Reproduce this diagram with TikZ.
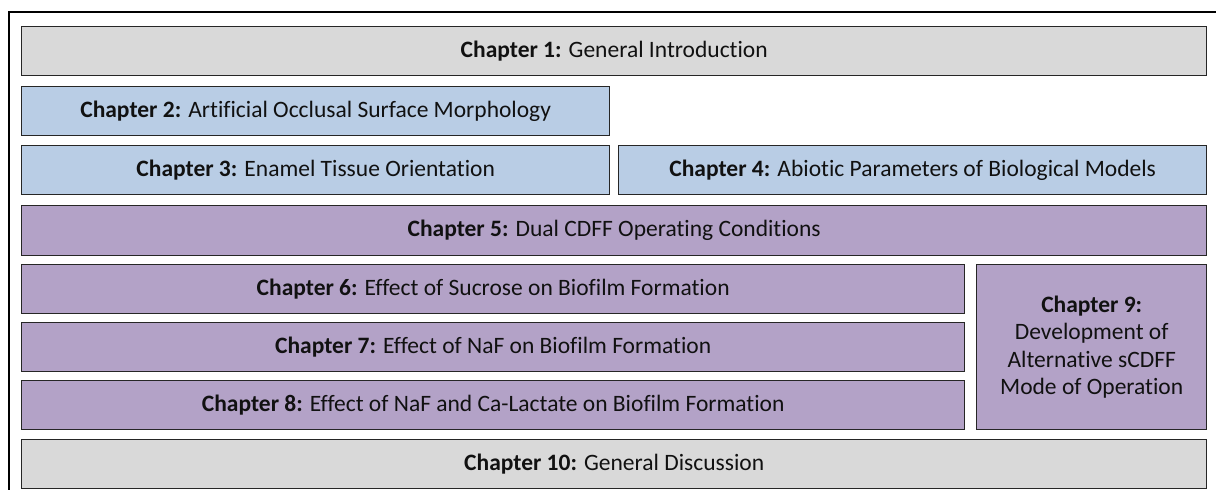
\documentclass[tikz,border=0pt]{standalone}
\usepackage{fontspec}
\setmainfont[Ligatures={NoCommon}]{Carlito}
\definecolor{greyfill}{HTML}{D9D9D9}
\definecolor{bluefill}{HTML}{B9CDE5}
\definecolor{purplefill}{HTML}{B3A2C7}
\definecolor{edgecol}{HTML}{262626}
\definecolor{txtcol}{HTML}{111111}
\tikzset{
  chbox/.style={draw=edgecol, line width=1.4pt, anchor=north west, inner sep=0pt,
    text=txtcol, align=center, font=\fontsize{23.5}{27.5}\selectfont},
  greybox/.style={chbox, fill=greyfill},
  bluebox/.style={chbox, fill=bluefill},
  purplebox/.style={chbox, fill=purplefill},
}
\begin{document}
\begin{tikzpicture}[x=1pt, y=-1pt]
\useasboundingbox (0,0) rectangle (1216,490);
\fill[white] (0,0) rectangle (1216,490);
\draw[line width=1.5pt, black] (9,500) -- (9,12) -- (1230,12);
\node[greybox, minimum width=1185pt, minimum height=49pt] (c1) at (21,26) {\textbf{Chapter 1:} General Introduction};
\node[bluebox, minimum width=588pt, minimum height=49pt] (c2) at (21,86) {\textbf{Chapter 2:} Artificial Occlusal Surface Morphology};
\node[bluebox, minimum width=588pt, minimum height=49pt] (c3) at (21,145) {\textbf{Chapter 3:} Enamel Tissue Orientation};
\node[bluebox, minimum width=588pt, minimum height=49pt] (c4) at (618,145) {\textbf{Chapter 4:} Abiotic Parameters of Biological Models};
\node[purplebox, minimum width=1185pt, minimum height=50pt] (c5) at (21,205) {\textbf{Chapter 5:} Dual CDFF Operating Conditions};
\node[purplebox, minimum width=943pt, minimum height=49pt] (c6) at (21,264) {\textbf{Chapter 6:} Effect of Sucrose on Biofilm Formation};
\node[purplebox, minimum width=943pt, minimum height=49pt] (c7) at (21,322) {\textbf{Chapter 7:} Effect of NaF on Biofilm Formation};
\node[purplebox, minimum width=943pt, minimum height=49pt] (c8) at (21,380) {\textbf{Chapter 8:} Effect of NaF and Ca-Lactate on Biofilm Formation};
\node[purplebox, minimum width=230pt, minimum height=165pt] (c9) at (976,264) {\textbf{Chapter 9:}\\Development of\\Alternative sCDFF\\Mode of Operation};
\node[greybox, minimum width=1185pt, minimum height=49pt] (c10) at (21,439) {\textbf{Chapter 10:} General Discussion};
\end{tikzpicture}
\end{document}
